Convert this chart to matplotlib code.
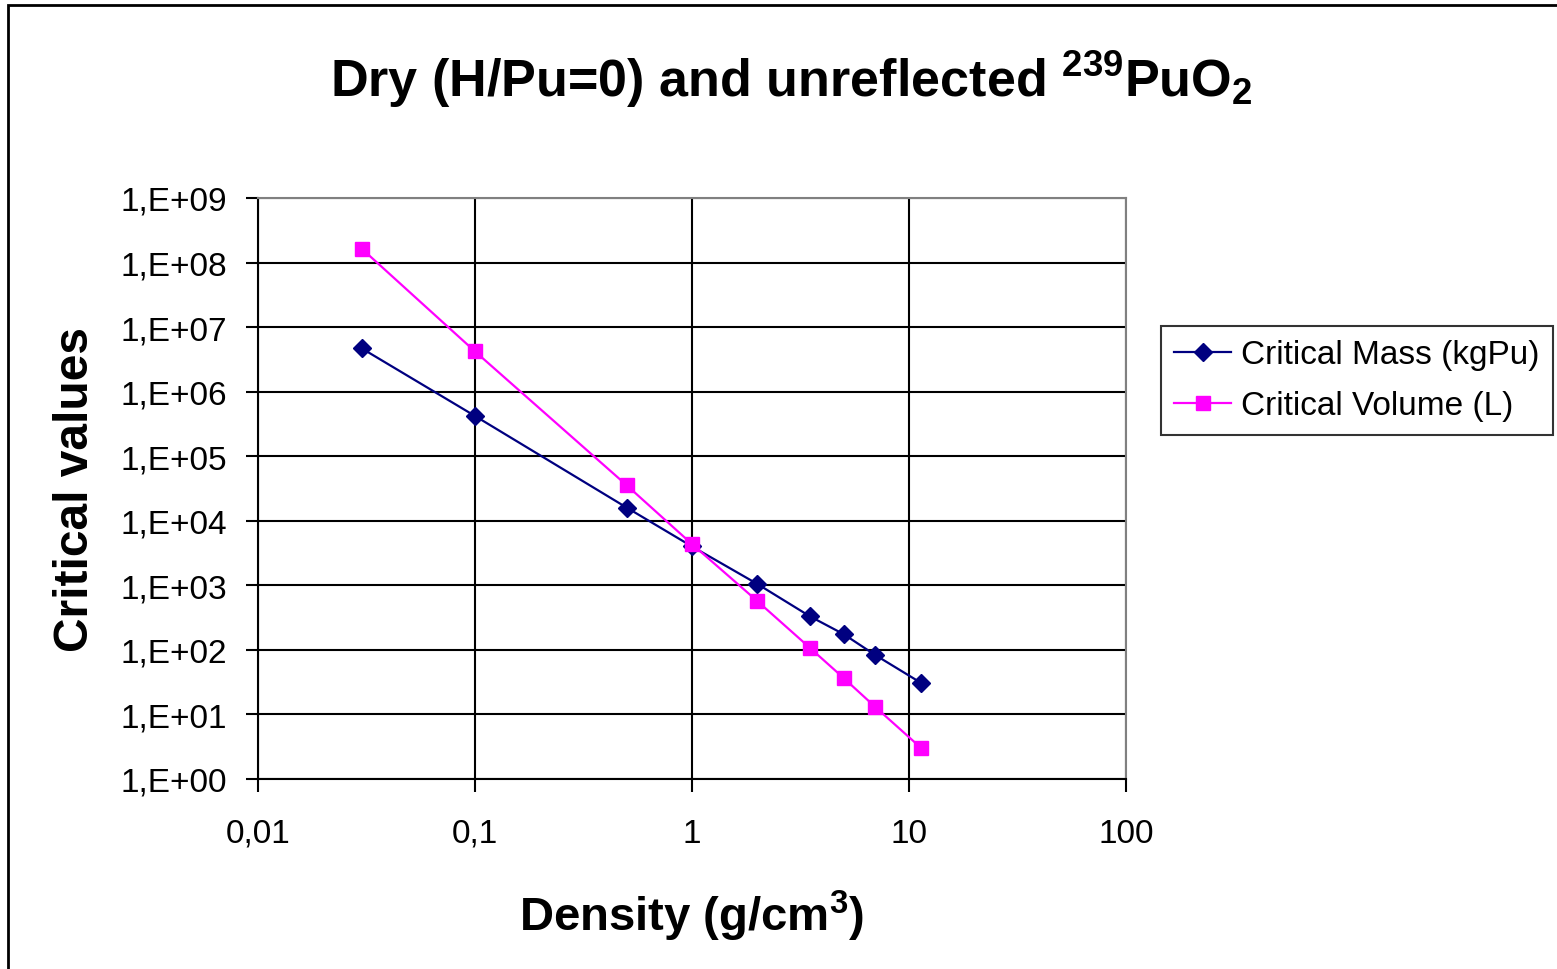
import math
import matplotlib
matplotlib.use("Agg")
import matplotlib.pyplot as plt
from matplotlib.patches import Rectangle
from matplotlib.ticker import FixedLocator, FuncFormatter, NullLocator

plt.rcParams['font.family'] = ['Liberation Sans', 'DejaVu Sans']
plt.rcParams['mathtext.fontset'] = 'custom'
plt.rcParams['mathtext.rm'] = 'Liberation Sans:bold'
plt.rcParams['mathtext.bf'] = 'Liberation Sans:bold'

# densite (g/cm3) et valeurs critiques
density = [0.03, 0.1, 0.5, 1, 2, 3.5, 5, 7, 11.4]
crit_mass = [4.7e6, 4.2e5, 1.6e4, 4.0e3, 1.05e3, 330, 175, 83, 30.6]
crit_volume = [1.65e8, 4.2e6, 3.55e4, 4.35e3, 570, 107, 36.6, 13, 3.0]

x_ticks = [0.01, 0.1, 1, 10, 100]
x_labels = ["0,01", "0,1", "1", "10", "100"]
y_ticks = [10.0 ** k for k in range(0, 10)]


def fmt_x(v, pos):
    return x_labels[pos] if pos is not None and pos < len(x_labels) else ""


def fmt_y(v, pos):
    return "1,E+%02d" % round(math.log10(v))


fig = plt.figure(figsize=(15.57, 9.70), dpi=100)
ax = fig.add_axes([258 / 1557, 1 - 780 / 970, 868 / 1557, 581 / 970])

ax.plot(density, crit_mass, color="#000080", lw=1.6, marker="D",
        markersize=9, label="Critical Mass (kgPu)")
ax.plot(density, crit_volume, color="#FF00FF", lw=1.6, marker="s",
        markersize=10, label="Critical Volume (L)")

ax.set_xscale("log")
ax.set_yscale("log")
ax.set_xlim(0.01, 100)
ax.set_ylim(1, 1e9)

ax.xaxis.set_major_locator(FixedLocator(x_ticks))
ax.xaxis.set_major_formatter(FuncFormatter(fmt_x))
ax.xaxis.set_minor_locator(NullLocator())
ax.yaxis.set_major_locator(FixedLocator(y_ticks))
ax.yaxis.set_major_formatter(FuncFormatter(fmt_y))
ax.yaxis.set_minor_locator(NullLocator())

ax.tick_params(axis="both", direction="out", length=9, width=1.5, labelsize=24, colors="black")
ax.tick_params(axis="x", pad=19)
ax.tick_params(axis="y", pad=13.5)

ax.grid(True, which="major", color="black", lw=1.5)
ax.set_axisbelow(True)
for side in ("left", "bottom"):
    ax.spines[side].set_color("black")
    ax.spines[side].set_linewidth(1.5)
for side in ("top", "right"):
    ax.spines[side].set_color("#808080")
    ax.spines[side].set_linewidth(1.5)

ax.set_xlabel(r"Density (g/cm$^{3}$)", fontsize=34, fontweight="bold", labelpad=28)
ax.set_ylabel("Critical values", fontsize=34.5, fontweight="bold", labelpad=16)

fig.text(791 / 1557, 0.918, r"Dry (H/Pu=0) and unreflected $^{239}$PuO$_{2}$",
         ha="center", va="center", fontsize=37.5, fontweight="bold")

leg = fig.legend(loc="upper left", bbox_to_anchor=(1161 / 1557, 1 - 327 / 970),
                 borderaxespad=0, fontsize=24, frameon=True, fancybox=False,
                 borderpad=0.4, handlelength=1.7, handletextpad=0.3,
                 labelspacing=0.6)
leg.get_frame().set_edgecolor("black")
leg.get_frame().set_linewidth(1.5)

# cadre autour du graphique
fig.patches.append(Rectangle((8 / 1557, -0.1), 1.2, 1 - 6 / 970 + 0.1,
                             transform=fig.transFigure, fill=False,
                             edgecolor="black", lw=2.0))

fig.savefig("out.png", dpi=100)
